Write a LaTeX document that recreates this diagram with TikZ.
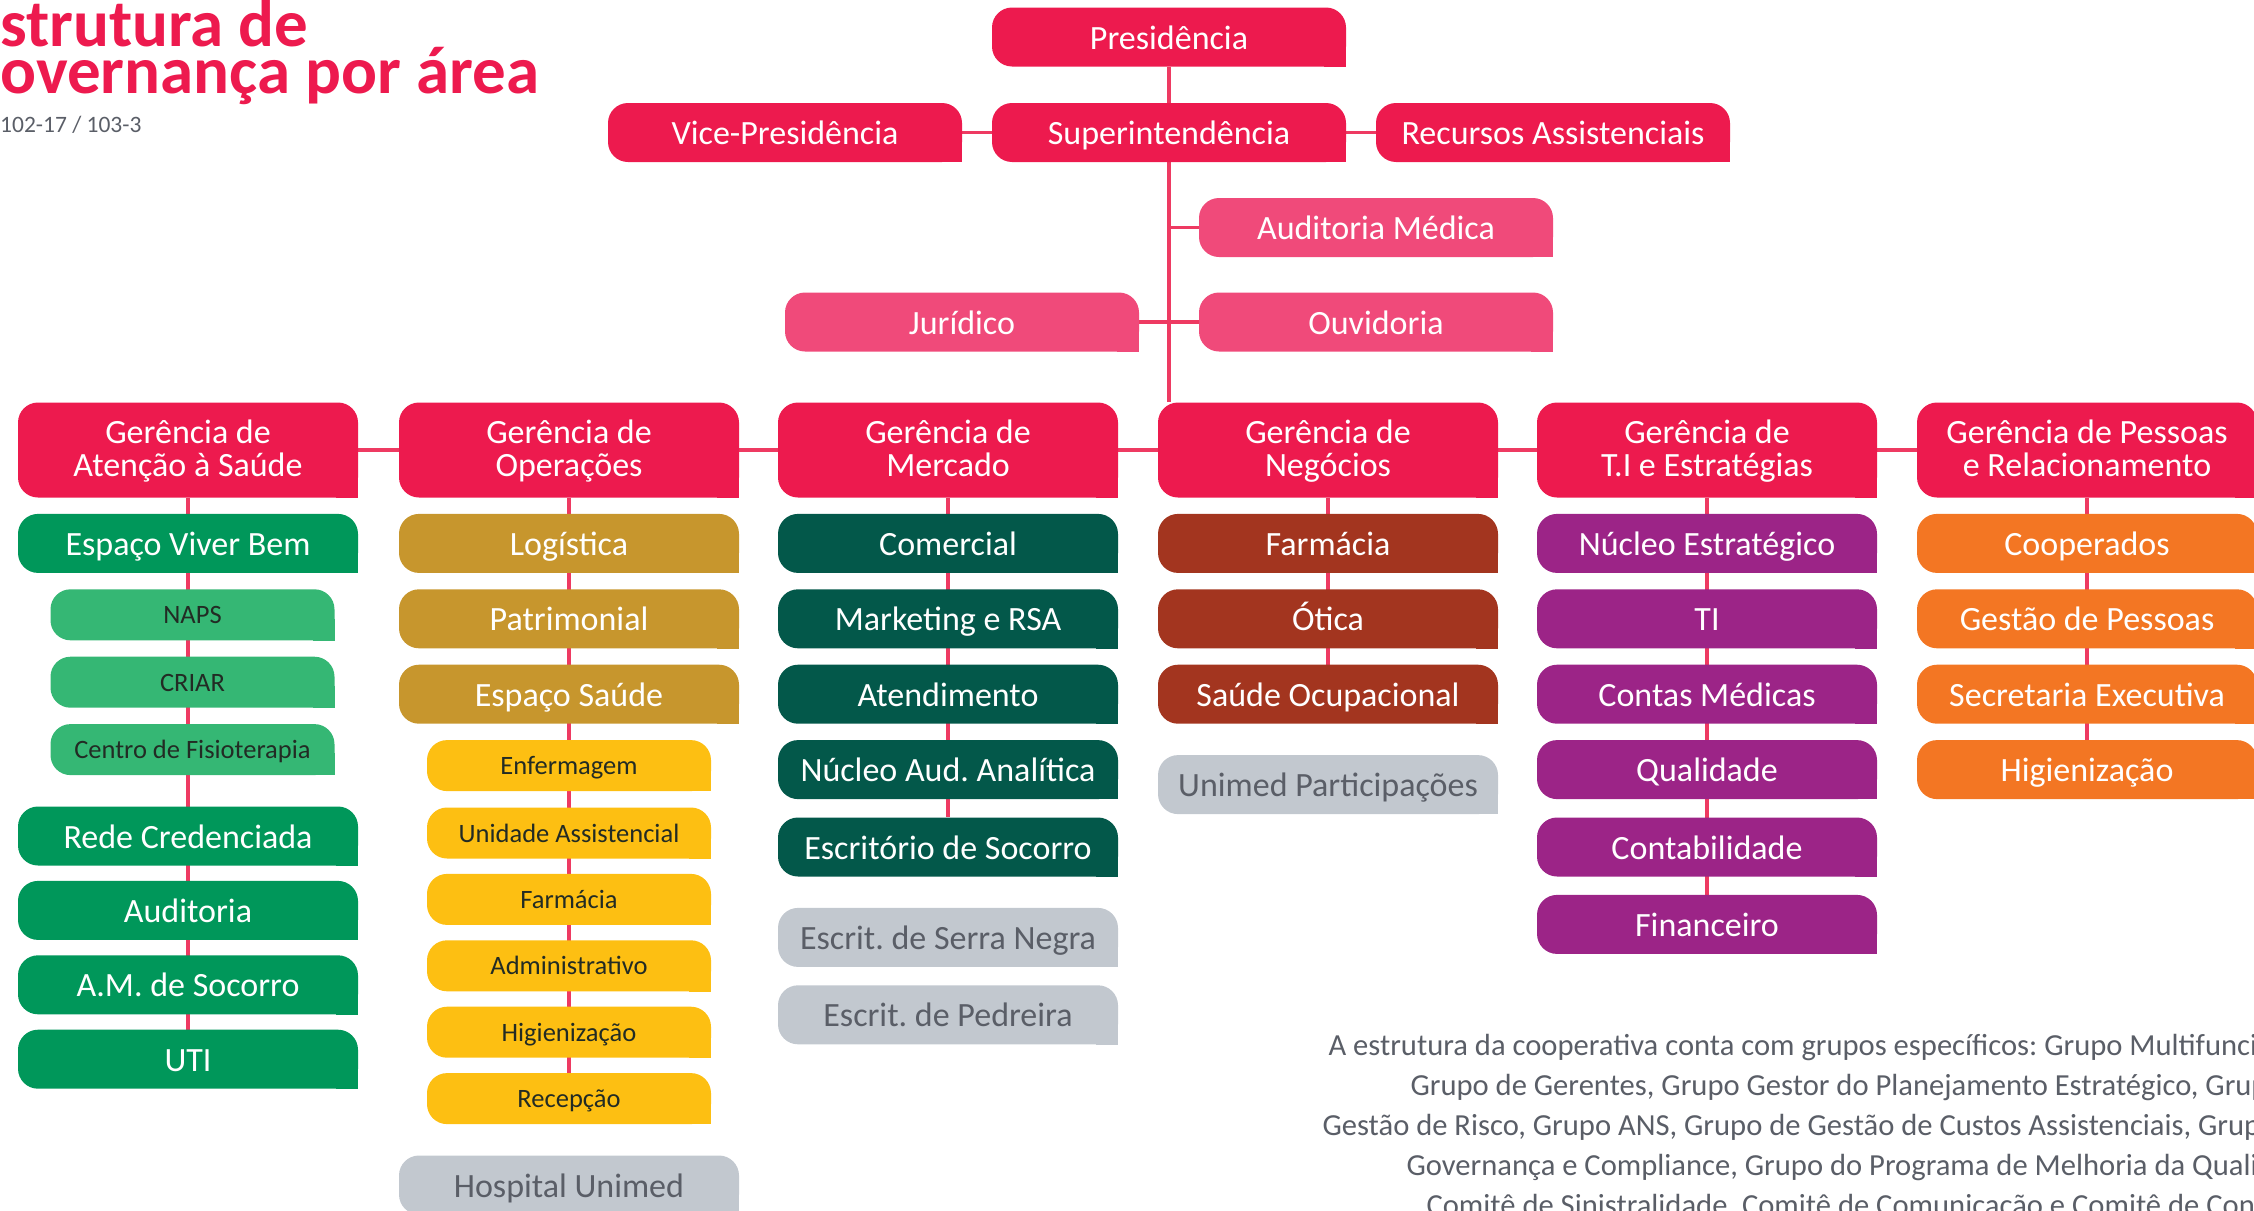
\documentclass[tikz,border=0pt]{standalone}
\usepackage{fontspec}
\setmainfont{Carlito}
\usetikzlibrary{positioning,backgrounds}

\definecolor{unired}{HTML}{ED1A4E}
\definecolor{unipink}{HTML}{F04A7A}
\definecolor{atgreen}{HTML}{00975A}
\definecolor{atlight}{HTML}{35B774}
\definecolor{opgold}{HTML}{C7962D}
\definecolor{opyellow}{HTML}{FDBF12}
\definecolor{mkteal}{HTML}{03584A}
\definecolor{ngbrown}{HTML}{A3351F}
\definecolor{tipurple}{HTML}{9C2487}
\definecolor{pporange}{HTML}{F37623}
\definecolor{uigray}{HTML}{C2C8CF}
\definecolor{uitext}{HTML}{5A5E67}
\definecolor{subtext}{HTML}{222B24}
\definecolor{linkred}{HTML}{EE3A62}

\newcommand\mainfs{\fontsize{34}{33}\selectfont\lineskiplimit=-20pt\relax}
\newcommand\smallfs{\fontsize{26.5}{28}\selectfont}
\newcommand\titlefs{\fontsize{67}{47}\selectfont\bfseries\lineskiplimit=-40pt\relax}
\newcommand\codefs{\fontsize{23.5}{28}\selectfont}
\newcommand\notefs{\fontsize{30.6}{36}\selectfont}
\newcommand\hstrut{\rule[-7pt]{0pt}{33pt}}
\frenchspacing

\begin{document}
\begin{tikzpicture}[
    x=1pt, y=-1pt,
    node distance=16pt,
    box/.style={fill=#1, rounded corners=20pt, minimum width=340pt, minimum height=59pt, inner sep=0pt, align=center, text=white, font=\mainfs,
        text height=32pt, text depth=8pt,
        append after command={\pgfextra{\fill[#1, sharp corners] (\tikzlastnode.south east) rectangle ([shift={(-22pt,22pt)}]\tikzlastnode.south east);}}},
    topbox/.style={box=#1, minimum width=354pt},
    head/.style={box=unired, minimum height=95pt, text height={}, text depth={}},
    sub/.style={box=#1, minimum width=284pt, minimum height=51pt, text=subtext, font=\smallfs, text height=24pt, text depth=6pt},
    grey/.style={box=uigray, text=uitext},
    link/.style={draw=linkred, line width=3.5pt}
]
\useasboundingbox (0,0) rectangle (2254,1210);
\clip (0,0) rectangle (2254,1210);

% Title
\node[anchor=north west, inner sep=0pt, align=left, font=\titlefs, text=unired] (ttl) at (0,-1) {\llap{E}strutura de\\\llap{G}overnança por área};
\node[anchor=base west, inner sep=0pt, font=\codefs, text=uitext] (gri) at (0,132) {102-17 / 103-3};

% Top of the structure
\node[topbox=unired] (pres) at (1169,37) {Presidência};
\node[topbox=unired] (sup) at (1169,132.5) {Superintendência};
\node[topbox=unired] (vice) at (785,132.5) {Vice-Presidência};
\node[topbox=unired] (recursos) at (1553,132.5) {Recursos Assistenciais};
\node[topbox=unipink] (audmed) at (1376,227.5) {Auditoria Médica};
\node[topbox=unipink] (jur) at (962,322) {Jurídico};
\node[topbox=unipink] (ouv) at (1376,322) {Ouvidoria};

% Managements
\node[head] (g1) at (188,450) {\hstrut Gerência de\\\hstrut Atenção à Saúde};
\node[head] (g2) at (569,450) {\hstrut Gerência de\\\hstrut Operações};
\node[head] (g3) at (948,450) {\hstrut Gerência de\\\hstrut Mercado};
\node[head] (g4) at (1328,450) {\hstrut Gerência de\\\hstrut Negócios};
\node[head] (g5) at (1707,450) {\hstrut Gerência de\\\hstrut T.I e Estratégias};
\node[head] (g6) at (2087,450) {\hstrut Gerência de Pessoas\\\hstrut e Relacionamento};

% Atencao a Saude
\node[box=atgreen, below=of g1] (evb) {Espaço Viver Bem};
\node[sub=atlight, below=of evb, xshift=4.5pt] (naps) {NAPS};
\node[sub=atlight, below=of naps] (criar) {CRIAR};
\node[sub=atlight, below=of criar] (fisio) {Centro de Fisioterapia};
\node[box=atgreen, below=31pt of fisio, xshift=-4.5pt] (rede) {Rede Credenciada};
\node[box=atgreen, below=15pt of rede] (aud) {Auditoria};
\node[box=atgreen, below=15pt of aud] (amsoc) {A.M. de Socorro};
\node[box=atgreen, below=15pt of amsoc] (uti) {UTI};

% Operacoes
\node[box=opgold, below=of g2] (logis) {Logística};
\node[box=opgold, below=of logis] (patri) {Patrimonial};
\node[box=opgold, below=of patri] (espsau) {Espaço Saúde};
\node[sub=opyellow, below=of espsau] (enferm) {Enfermagem};
\node[sub=opyellow, below=of enferm] (unid) {Unidade Assistencial};
\node[sub=opyellow, below=15pt of unid] (farmop) {Farmácia};
\node[sub=opyellow, below=15pt of farmop] (admin) {Administrativo};
\node[sub=opyellow, below=15pt of admin] (higop) {Higienização};
\node[sub=opyellow, below=15pt of higop] (recep) {Recepção};
\node[grey, below=31pt of recep] (hosp) {Hospital Unimed};

% Mercado
\node[box=mkteal, below=of g3] (comer) {Comercial};
\node[box=mkteal, below=of comer] (mkt) {Marketing e RSA};
\node[box=mkteal, below=of mkt] (atend) {Atendimento};
\node[box=mkteal, below=of atend] (nucaud) {Núcleo Aud. Analítica};
\node[box=mkteal, below=18pt of nucaud] (escsoc) {Escritório de Socorro};
\node[grey, below=31pt of escsoc] (serra) {Escrit. de Serra Negra};
\node[grey, below=18pt of serra] (pedr) {Escrit. de Pedreira};

% Negocios
\node[box=ngbrown, below=of g4] (farmng) {Farmácia};
\node[box=ngbrown, below=of farmng] (otica) {Ótica};
\node[box=ngbrown, below=of otica] (saudoc) {Saúde Ocupacional};
\node[grey, below=31pt of saudoc] (unipart) {Unimed Participações};

% T.I e Estrategias
\node[box=tipurple, below=of g5] (nucest) {Núcleo Estratégico};
\node[box=tipurple, below=of nucest] (ti) {TI};
\node[box=tipurple, below=of ti] (contas) {Contas Médicas};
\node[box=tipurple, below=of contas] (qual) {Qualidade};
\node[box=tipurple, below=18pt of qual] (contab) {Contabilidade};
\node[box=tipurple, below=18pt of contab] (finan) {Financeiro};

% Pessoas e Relacionamento
\node[box=pporange, below=of g6] (coop) {Cooperados};
\node[box=pporange, below=of coop] (gespes) {Gestão de Pessoas};
\node[box=pporange, below=of gespes] (secr) {Secretaria Executiva};
\node[box=pporange, below=of secr] (higpp) {Higienização};

% Note on groups
\node[anchor=base west, font=\notefs, text=uitext] (note1) at (1325,1055) {A estrutura da cooperativa conta com grupos específicos: Grupo Multifunci};
\node[anchor=base west, font=\notefs, text=uitext] (note2) at (1407,1095) {Grupo de Gerentes, Grupo Gestor do Planejamento Estratégico, Grup};
\node[anchor=base west, font=\notefs, text=uitext] (note3) at (1319,1135) {Gestão de Risco, Grupo ANS, Grupo de Gestão de Custos Assistenciais, Grup};
\node[anchor=base west, font=\notefs, text=uitext] (note4) at (1403,1175) {Governança e Compliance, Grupo do Programa de Melhoria da Quali};
\node[anchor=base west, font=\notefs, text=uitext] (note5) at (1423,1215) {Comitê de Sinistralidade, Comitê de Comunicação e Comitê de Con};

% Connectors
\begin{scope}[on background layer]
\draw[link] (pres) -- (sup);
\draw[link] (vice) -- (recursos);
\draw[link] (sup) -- (sup |- g4.north);
\draw[link] (audmed.west) -- (audmed.west -| sup);
\draw[link] (jur) -- (ouv);
\draw[link] (g1) -- (g6);
\draw[link] (g1) -- (uti);
\draw[link] (g2) -- (recep);
\draw[link] (g3) -- (escsoc);
\draw[link] (g4) -- (saudoc);
\draw[link] (g5) -- (finan);
\draw[link] (g6) -- (higpp);
\end{scope}

\end{tikzpicture}
\end{document}
